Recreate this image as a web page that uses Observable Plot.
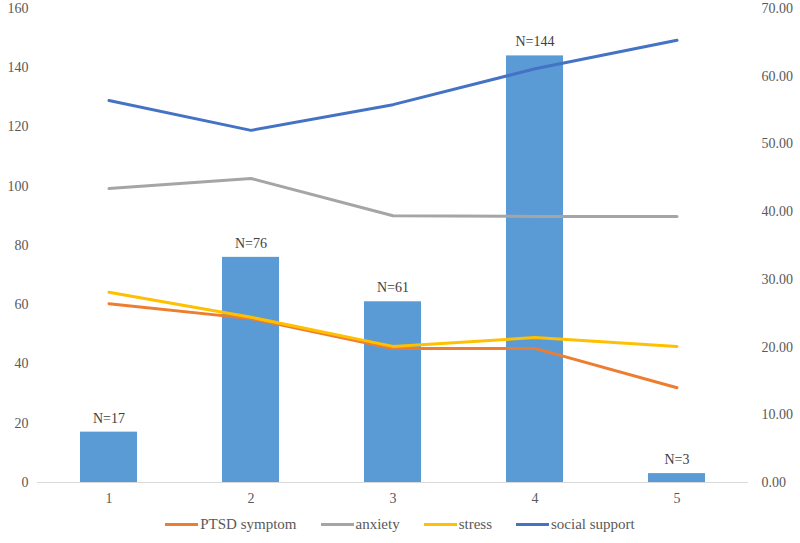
<!DOCTYPE html>
<html>
<head>
<meta charset="utf-8">
<script src="https://cdn.jsdelivr.net/npm/d3@7"></script>
<script src="https://cdn.jsdelivr.net/npm/@observablehq/plot@0.6"></script>
<style>
  body { margin: 0; background: #fff; font-family: "Liberation Serif", "DejaVu Serif", serif; }
  #legend { display: flex; justify-content: center; align-items: center; height: 38px; gap: 24px; color: #595959; font-size: 15px; }
  .item { display: flex; align-items: center; }
  .sw { width: 33px; height: 3px; margin-right: 2px; }
  svg text { font-family: "Liberation Serif", "DejaVu Serif", serif; }
</style>
</head>
<body>
<div id="chart"></div>
<div id="legend"></div>
<script>
const groups = [1, 2, 3, 4, 5];
const counts = [17, 76, 61, 144, 3];
const countLabels = ["N=17", "N=76", "N=61", "N=144", "N=3"];
const ptsd = [26.4, 24.2, 19.8, 19.8, 14.0];
const anxiety = [43.4, 44.9, 39.4, 39.3, 39.3];
const stress = [28.1, 24.4, 20.1, 21.4, 20.1];
const socialSupport = [56.4, 52.0, 55.8, 61.1, 65.3];
const seriesNames = ["PTSD symptom", "anxiety", "stress", "social support"];
const seriesColors = ["#ed7d31", "#a5a5a5", "#ffc000", "#4472c4"];
const leftTicks = [0, 20, 40, 60, 80, 100, 120, 140, 160];
const rightTicks = [0, 10, 20, 30, 40, 50, 60, 70];

const k = 160 / 70; // right axis (0–70) mapped onto left axis (0–160)
const bars = groups.map((g, i) => ({g, n: counts[i], label: countLabels[i]}));
const seriesValues = [ptsd, anxiety, stress, socialSupport];
const lines = [];
seriesNames.forEach((s, si) => groups.forEach((g, i) => lines.push({series: s, g, v: seriesValues[si][i] * k})));

const gray = "#595959";
const chart = Plot.plot({
  width: 800,
  height: 505,
  marginTop: 8,
  marginBottom: 23,
  marginLeft: 37,
  marginRight: 52,
  style: {fontFamily: "Liberation Serif, DejaVu Serif, serif", fontSize: "14px", color: gray, background: "#fff"},
  x: {domain: groups, paddingInner: 0.6, paddingOuter: 0.3, label: null},
  y: {domain: [0, 160], label: null},
  color: {domain: seriesNames, range: seriesColors},
  marks: [
    Plot.axisX({tickSize: 0, tickPadding: 11, fill: gray, fontSize: 14}),
    Plot.axisY(leftTicks, {anchor: "left", tickSize: 0, tickPadding: 9, fill: gray, fontSize: 14, label: null}),
    Plot.axisY(rightTicks.map(v => v * k), {anchor: "right", tickSize: 0, tickPadding: 13, fill: gray, fontSize: 14, label: null, textAnchor: "start", tickFormat: d => (d / k).toFixed(2)}),
    Plot.barY(bars, {x: "g", y: "n", fill: "#5b9bd5"}),
    Plot.ruleY([0], {stroke: "#d9d9d9", strokeWidth: 1}),
    Plot.text(bars, {x: "g", y: "n", text: "label", dy: -14, fill: "#404040", fontSize: 14}),
    Plot.line(lines, {x: "g", y: "v", z: "series", stroke: "series", strokeWidth: 3, curve: "linear"})
  ]
});
document.getElementById("chart").appendChild(chart);

const legend = document.getElementById("legend");
seriesNames.forEach((s, i) => {
  const item = document.createElement("div");
  item.className = "item";
  const sw = document.createElement("div");
  sw.className = "sw";
  sw.style.background = seriesColors[i];
  const t = document.createElement("span");
  t.textContent = s;
  item.appendChild(sw);
  item.appendChild(t);
  legend.appendChild(item);
});
</script>
</body>
</html>
